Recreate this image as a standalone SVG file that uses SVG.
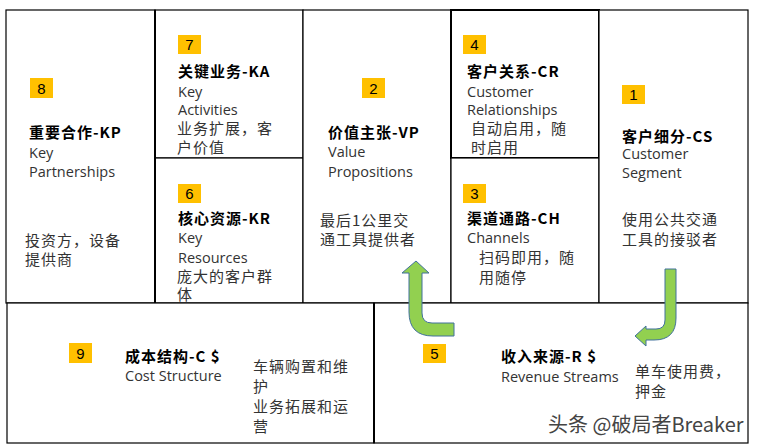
<svg xmlns="http://www.w3.org/2000/svg" width="758" height="447" viewBox="0 0 758 447">
<style>
.box{fill:#fff;stroke:#000;stroke-width:1.2}
.thick{fill:none;stroke:#000;stroke-width:2}
.badge{fill:#FFC000}
.num{font-family:"Liberation Sans",Arial,sans-serif;font-size:15px;fill:#000;text-anchor:middle}
.title{font-family:"Noto Sans CJK SC",sans-serif;font-size:15px;font-weight:bold;fill:#000;letter-spacing:1px}
.en{font-family:"Open Sans","Noto Sans CJK SC",sans-serif;font-size:14.5px;fill:#333}
.zh{font-family:"Noto Sans CJK SC",sans-serif;font-size:15px;fill:#333;letter-spacing:1px}
.arrow{fill:#92D050;stroke:#41719C;stroke-width:1;stroke-linejoin:round}
.wm{font-family:"Noto Sans CJK SC","Liberation Sans",sans-serif;font-size:20px;fill:#444;stroke:#fff;stroke-width:2.5;paint-order:stroke}
</style>
<rect width="758" height="447" fill="#fff"/>
<g id="KP">
<rect class="box" x="6" y="10" width="149" height="293"/>
<rect class="badge" x="30" y="78" width="23" height="20"/><text class="num" x="41.5" y="94">8</text>
<text class="title" x="29" y="138">重要合作-KP</text>
<text class="en" x="29" y="158">Key</text>
<text class="en" x="29" y="177">Partnerships</text>
<text class="zh" x="25" y="246">投资方，设备</text>
<text class="zh" x="25" y="265">提供商</text>
</g>
<g id="KA">
<rect class="box" x="155" y="10" width="148" height="148"/>
<rect class="badge" x="178" y="35" width="23" height="19"/><text class="num" x="189.5" y="50">7</text>
<text class="title" x="178" y="77">关键业务-KA</text>
<text class="en" x="178" y="97">Key</text>
<text class="en" x="178" y="115">Activities</text>
<text class="zh" x="177" y="134">业务扩展，客</text>
<text class="zh" x="177" y="153">户价值</text>
</g>
<g id="KR">
<rect class="box" x="155" y="158" width="148" height="145"/>
<rect class="badge" x="178" y="184" width="23" height="19"/><text class="num" x="189.5" y="199">6</text>
<text class="title" x="178" y="224">核心资源-KR</text>
<text class="en" x="178" y="243">Key</text>
<text class="en" x="178" y="263">Resources</text>
<text class="zh" x="177" y="282">庞大的客户群</text>
<text class="zh" x="177" y="300">体</text>
</g>
<g id="VP">
<rect class="box" x="303" y="10" width="148" height="293"/>
<rect class="badge" x="362" y="78" width="23" height="20"/><text class="num" x="373.5" y="94">2</text>
<text class="title" x="328" y="138">价值主张-VP</text>
<text class="en" x="328" y="157">Value</text>
<text class="en" x="328" y="177">Propositions</text>
<text class="zh" x="320" y="226">最后1公里交</text>
<text class="zh" x="320" y="245">通工具提供者</text>
</g>
<g id="CR">
<rect class="box" x="451" y="10" width="148" height="148" style="stroke-width:2"/>
<rect class="badge" x="463" y="35" width="23" height="19"/><text class="num" x="474.5" y="50">4</text>
<text class="title" x="467" y="77">客户关系-CR</text>
<text class="en" x="467" y="97">Customer</text>
<text class="en" x="467" y="115">Relationships</text>
<text class="zh" x="471" y="134">自动启用，随</text>
<text class="zh" x="471" y="153">时启用</text>
</g>
<g id="CH">
<rect class="box" x="451" y="158" width="148" height="145"/>
<rect class="badge" x="463" y="184" width="23" height="19"/><text class="num" x="474.5" y="199">3</text>
<text class="title" x="467" y="224">渠道通路-CH</text>
<text class="en" x="467" y="243">Channels</text>
<text class="zh" x="479" y="263">扫码即用，随</text>
<text class="zh" x="479" y="283">用随停</text>
</g>
<g id="CS">
<rect class="box" x="599" y="10" width="149" height="293"/>
<rect class="badge" x="622" y="85" width="23" height="19"/><text class="num" x="633.5" y="100">1</text>
<text class="title" x="622" y="142">客户细分-CS</text>
<text class="en" x="622" y="159">Customer</text>
<text class="en" x="622" y="178">Segment</text>
<text class="zh" x="622" y="225">使用公共交通</text>
<text class="zh" x="622" y="245">工具的接驳者</text>
</g>
<g id="CostStructure">
<rect class="box" x="7" y="303" width="367" height="140"/>
<rect class="badge" x="69" y="343" width="23" height="20"/><text class="num" x="80.5" y="359">9</text>
<text class="title" x="125" y="362">成本结构-C $</text>
<text class="en" x="125" y="381">Cost Structure</text>
<text class="zh" x="253" y="372">车辆购置和维</text>
<text class="zh" x="253" y="392">护</text>
<text class="zh" x="253" y="412">业务拓展和运</text>
<text class="zh" x="253" y="432">营</text>
</g>
<g id="RevenueStreams">
<rect class="box" x="374" y="303" width="374" height="140"/>
<rect class="badge" x="423" y="344" width="23" height="19"/><text class="num" x="434.5" y="359">5</text>
<text class="title" x="501" y="362">收入来源-R $</text>
<text class="en" x="501" y="382">Revenue Streams</text>
<text class="zh" x="635" y="377">单车使用费，</text>
<text class="zh" x="635" y="397">押金</text>
</g>
<g id="borders">
<line class="thick" x1="155" y1="10" x2="155" y2="303"/>
<line class="thick" x1="374" y1="303" x2="374" y2="443"/>
</g>
<g id="connectors">
<path class="arrow" d="M416,261 L429,273 L422,273 L422,313 Q422,323 432,323 L454,323 L454,336 L433,336 Q409,336 409,312 L409,273 L402,273 Z"/>
<path class="arrow" d="M665,269 L676,269 L676,318 Q676,340 654,340 L646,340 L646,346 L635,336 L646,326 L646,329 L656,329 Q665,329 665,320 Z"/>
</g>
<text class="wm" x="548" y="432">头条 @破局者Breaker</text>
</svg>
